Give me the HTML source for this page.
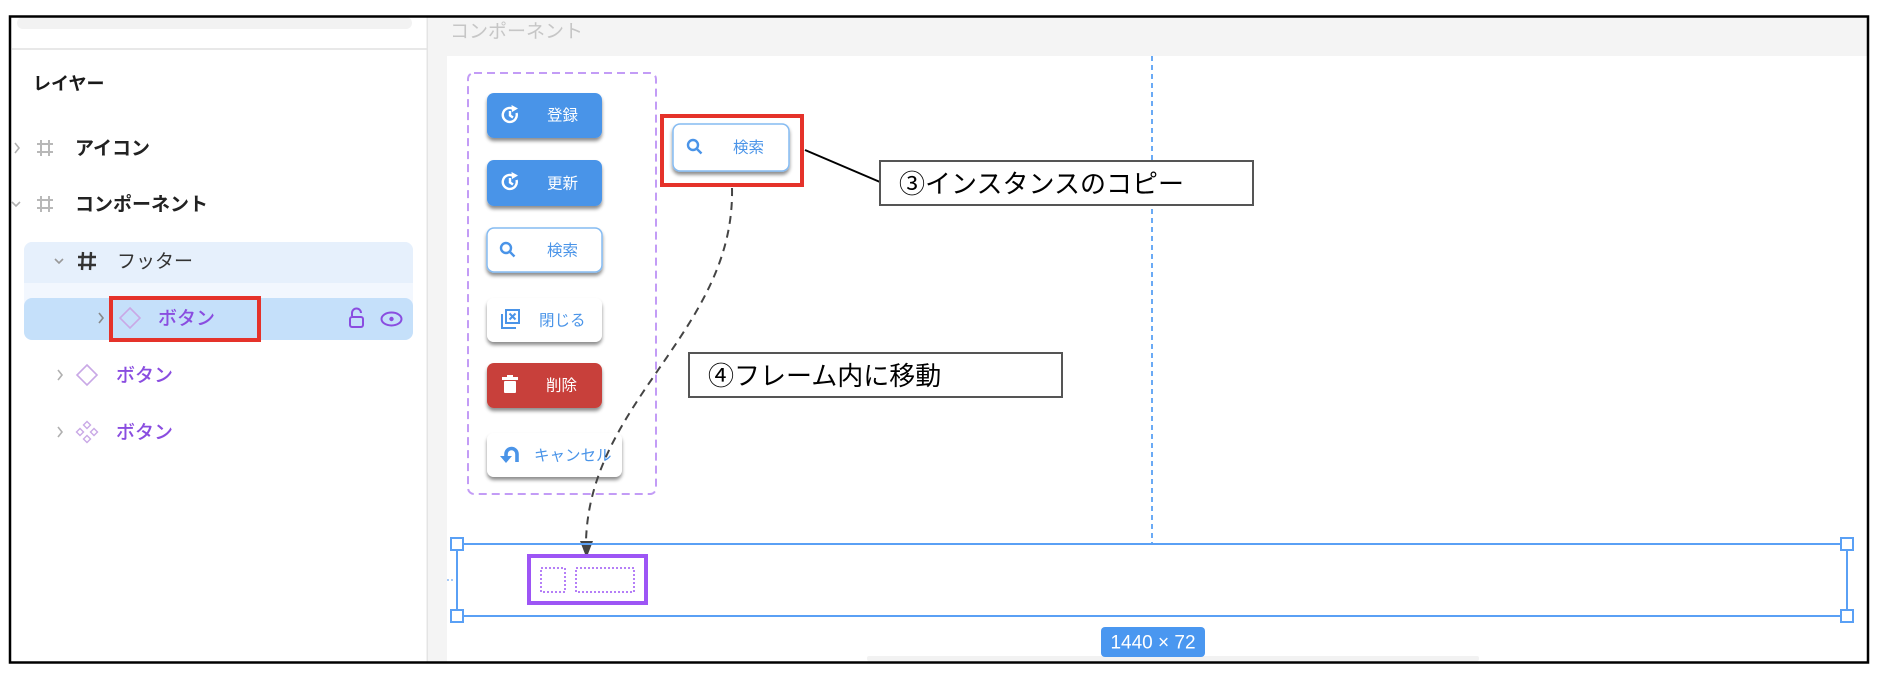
<!DOCTYPE html>
<html><head><meta charset="utf-8"><style>
html,body{margin:0;padding:0;background:#fff;width:1879px;height:679px;overflow:hidden}
svg{display:block}
text{font-family:"Liberation Sans","Noto Sans CJK JP",sans-serif}
.jp{font-family:"Liberation Sans","Noto Sans CJK JP",sans-serif}
</style></head><body>
<svg width="1879" height="679" viewBox="0 0 1879 679" xmlns="http://www.w3.org/2000/svg">
<defs>
<filter id="sh" x="-20%" y="-20%" width="140%" height="160%">
<feDropShadow dx="0" dy="3" stdDeviation="1.8" flood-color="#000" flood-opacity="0.45"/>
</filter>
</defs>
<rect x="0" y="0" width="1879" height="679" fill="#fff"/>

<!-- LEFT PANEL -->
<rect x="17" y="17" width="395" height="12" rx="6" fill="#f2f2f2"/>
<rect x="12" y="48" width="415" height="2" fill="#e8e8e8"/>
<text x="33" y="84" font-size="18" font-weight="700" fill="#1a1a1a" dominant-baseline="central">レイヤー</text>

<path d="M15,143 L19,148 L15,153" stroke="#b0b0b0" stroke-width="1.6" fill="none"/>
<g stroke="#b8b8b8" stroke-width="2">
<line x1="41" y1="140" x2="41" y2="156"/><line x1="49" y1="140" x2="49" y2="156"/>
<line x1="37" y1="144" x2="53" y2="144"/><line x1="37" y1="152" x2="53" y2="152"/>
</g>
<text x="75" y="149" font-size="19" font-weight="700" fill="#222" dominant-baseline="central">アイコン</text>

<path d="M12,202 L16,206 L20,202" stroke="#b0b0b0" stroke-width="1.6" fill="none"/>
<g stroke="#b8b8b8" stroke-width="2">
<line x1="41" y1="196" x2="41" y2="212"/><line x1="49" y1="196" x2="49" y2="212"/>
<line x1="37" y1="200" x2="53" y2="200"/><line x1="37" y1="208" x2="53" y2="208"/>
</g>
<text x="75" y="205" font-size="19" font-weight="700" fill="#222" dominant-baseline="central">コンポーネント</text>

<rect x="24" y="242" width="389" height="98" rx="8" fill="#f2f7fe"/>
<path d="M32,242 L405,242 A8,8 0 0 1 413,250 L413,283 L24,283 L24,250 A8,8 0 0 1 32,242 Z" fill="#e6f0fc"/>
<rect x="24" y="298" width="389" height="42" rx="8" fill="#c5e0fa"/>

<path d="M55,259 L59,263 L63,259" stroke="#999" stroke-width="1.6" fill="none"/>
<g stroke="#333" stroke-width="2.4">
<line x1="83" y1="252" x2="82" y2="270"/><line x1="91" y1="252" x2="90" y2="270"/>
<line x1="78" y1="257" x2="96" y2="257"/><line x1="78" y1="265" x2="96" y2="265"/>
</g>
<text x="117" y="262" font-size="19" fill="#333" dominant-baseline="central">フッター</text>

<path d="M99,313 L103,318 L99,323" stroke="#888" stroke-width="1.6" fill="none"/>
<path d="M130,308 L140,318 L130,328 L120,318 Z" stroke="#c9a8e6" stroke-width="1.6" fill="none"/>
<text x="158" y="319" font-size="19" font-weight="500" fill="#8a4de0" dominant-baseline="central">ボタン</text>
<path d="M352,316 L352,313 A4.5,4.5 0 0 1 361,313" stroke="#8a4de0" stroke-width="2" fill="none"/>
<rect x="350" y="317" width="13" height="10" rx="2" stroke="#8a4de0" stroke-width="2" fill="none"/>
<ellipse cx="391.5" cy="319" rx="10" ry="6.5" stroke="#8a4de0" stroke-width="2" fill="none"/>
<circle cx="391.5" cy="319" r="2.2" fill="#8a4de0"/>
<rect x="111" y="298" width="148" height="42" stroke="#e5322a" stroke-width="4" fill="none"/>

<path d="M58,370 L62,375 L58,380" stroke="#b0b0b0" stroke-width="1.6" fill="none"/>
<path d="M87,365 L97,375 L87,385 L77,375 Z" stroke="#c9a8e6" stroke-width="1.6" fill="none"/>
<text x="116" y="376" font-size="19" font-weight="500" fill="#8a4de0" dominant-baseline="central">ボタン</text>

<path d="M58,427 L62,432 L58,437" stroke="#b0b0b0" stroke-width="1.6" fill="none"/>
<g stroke="#c9a8e6" stroke-width="1.4" fill="none">
<path d="M87,421.5 L90.5,425 L87,428.5 L83.5,425 Z"/>
<path d="M87,435.5 L90.5,439 L87,442.5 L83.5,439 Z"/>
<path d="M80,428.5 L83.5,432 L80,435.5 L76.5,432 Z"/>
<path d="M94,428.5 L97.5,432 L94,435.5 L90.5,432 Z"/>
</g>
<text x="116" y="433" font-size="19" font-weight="500" fill="#8a4de0" dominant-baseline="central">ボタン</text>

<!-- CANVAS BACKGROUND -->
<rect x="428" y="17" width="1440" height="39" fill="#f4f4f4"/>
<rect x="428" y="17" width="19" height="645" fill="#f4f4f4"/>
<rect x="426.5" y="17" width="1.5" height="645" fill="#e4e4e4"/>
<text x="450" y="32" font-size="19" fill="#c6c6c6" dominant-baseline="central">コンポーネント</text>

<!-- blue guide -->
<line x1="1152" y1="56" x2="1152" y2="544" stroke="#6aaaf5" stroke-width="2" stroke-dasharray="5 4"/>

<!-- dashed container -->
<rect x="468" y="73" width="188" height="421" rx="6" stroke="#c39cf6" stroke-width="2" stroke-dasharray="8 5" fill="none"/>

<!-- buttons -->
<g filter="url(#sh)">
<rect x="487" y="93" width="115" height="45" rx="7" fill="#4a94e8"/>
<rect x="487" y="160" width="115" height="46" rx="7" fill="#4a94e8"/>
<rect x="487" y="228" width="115" height="44" rx="7" fill="#fff" stroke="#85bbf2" stroke-width="1.5"/>
<rect x="487" y="298" width="115" height="44" rx="7" fill="#fff"/>
<rect x="487" y="363" width="115" height="45" rx="7" fill="#c8413a"/>
<rect x="487" y="433" width="135" height="44" rx="7" fill="#fff"/>
<rect x="673" y="124" width="116" height="47" rx="7" fill="#fff" stroke="#85bbf2" stroke-width="1.5"/>
</g>

<!-- refresh icons -->
<g stroke="#fff" stroke-width="2.4" fill="none">
<path d="M516.5,113 A7,7 0 1 1 512.5,108.5"/>
<path d="M510,111 L510,115.5 L513,117.5"/>
<path d="M516.5,180 A7,7 0 1 1 512.5,175.5"/>
<path d="M510,178 L510,182.5 L513,184.5"/>
</g>
<path d="M511.5,105 L518,108.5 L512,112 Z" fill="#fff"/>
<path d="M511.5,172 L518,175.5 L512,179 Z" fill="#fff"/>
<text x="547" y="116" font-size="15.5" fill="#fff" dominant-baseline="central">登録</text>
<text x="547" y="184" font-size="15.5" fill="#fff" dominant-baseline="central">更新</text>

<!-- search icons -->
<g stroke="#4a94e8" stroke-width="2.4" fill="none">
<circle cx="506" cy="248" r="5"/><line x1="509.5" y1="251.5" x2="514.5" y2="256.5"/>
<circle cx="693" cy="145" r="5"/><line x1="696.5" y1="148.5" x2="701.5" y2="153.5"/>
</g>
<text x="547" y="251" font-size="15.5" fill="#4a94e8" dominant-baseline="central">検索</text>
<text x="733" y="148" font-size="15.5" fill="#4a94e8" dominant-baseline="central">検索</text>

<!-- close icon -->
<g stroke="#4a94e8" stroke-width="2" fill="none">
<rect x="506" y="310" width="13" height="13"/>
<path d="M502,314 L502,328 L516,328"/>
<path d="M509.5,313.5 L515.5,319.5 M515.5,313.5 L509.5,319.5"/>
</g>
<text x="539" y="321" font-size="15.5" fill="#4a94e8" dominant-baseline="central">閉じる</text>

<!-- trash -->
<rect x="502" y="377" width="16" height="3" fill="#fff"/>
<rect x="507" y="375" width="6" height="2" fill="#fff"/>
<rect x="504" y="381" width="12" height="12" rx="1" fill="#fff"/>
<text x="546" y="386" font-size="15.5" fill="#fff" dominant-baseline="central">削除</text>

<!-- undo -->
<path d="M506,461 L506,454 A5.5,5.5 0 0 1 517,454 L517,462" stroke="#4a94e8" stroke-width="3.6" fill="none"/>
<path d="M500,456 L512,456 L506,463 Z" fill="#4a94e8"/>
<text x="534" y="456" font-size="15.5" fill="#4a94e8" dominant-baseline="central">キャンセル</text>

<!-- red box copy -->
<rect x="662" y="116" width="140" height="69" stroke="#e5322a" stroke-width="4" fill="none"/>

<!-- connector to callout 3 -->
<line x1="805" y1="150" x2="880" y2="182" stroke="#000" stroke-width="2"/>
<rect x="880" y="161" width="373" height="44" stroke="#555" stroke-width="2" fill="#fff"/>
<text x="899" y="184" font-size="26" fill="#000" dominant-baseline="central">③インスタンスのコピー</text>

<!-- dashed curve -->
<path d="M732,188 C735,330 590,400 586,541" stroke="#444" stroke-width="2" stroke-dasharray="8 6" fill="none"/>
<path d="M580,541 L593,541 L586.5,558 Z" fill="#444"/>

<!-- callout 4 -->
<rect x="689" y="353" width="373" height="44" stroke="#555" stroke-width="2" fill="#fff"/>
<text x="708" y="376" font-size="26" fill="#000" dominant-baseline="central">④フレーム内に移動</text>

<!-- selection frame -->
<rect x="457" y="544" width="1390" height="72" stroke="#5aa0f5" stroke-width="2" fill="none"/>
<line x1="447" y1="580" x2="455" y2="580" stroke="#8ab8f5" stroke-width="1.5" stroke-dasharray="2 2"/>
<g fill="#fff" stroke="#5aa0f5" stroke-width="2">
<rect x="451" y="538" width="12" height="12"/>
<rect x="451" y="610" width="12" height="12"/>
<rect x="1841" y="538" width="12" height="12"/>
<rect x="1841" y="610" width="12" height="12"/>
</g>

<!-- purple box -->
<rect x="529" y="556" width="117" height="47" stroke="#9d55f5" stroke-width="4" fill="none"/>
<rect x="541" y="568" width="24" height="24" stroke="#b57ff7" stroke-width="2" stroke-dasharray="2 2" fill="none"/>
<rect x="576" y="568" width="58" height="24" stroke="#b57ff7" stroke-width="2" stroke-dasharray="2 2" fill="none"/>

<!-- bottom faint toolbar -->
<rect x="867" y="656" width="612" height="5" rx="2" fill="#f2f2f2"/>

<!-- badge -->
<rect x="1101" y="627" width="104" height="30" rx="4" fill="#4a97f0"/>
<text x="1153" y="643" font-size="19" fill="#fff" text-anchor="middle" dominant-baseline="central">1440 × 72</text>

<!-- outer border -->
<rect x="10" y="16.5" width="1858" height="646" stroke="#000" stroke-width="2.5" fill="none"/>
</svg>
</body></html>
